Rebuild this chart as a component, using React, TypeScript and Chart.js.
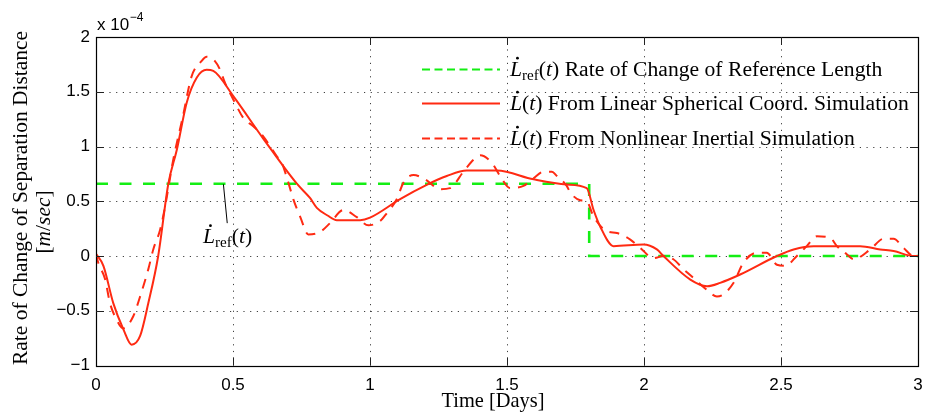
import React, { useEffect, useRef } from 'react';
import { Chart, registerables } from 'chart.js';

Chart.register(...registerables);

// ---------------- data (units of 1e-4 m/s) ----------------
const refX = [0, 1.8, 1.8, 3.0];
const refY = [0.66, 0.66, 0, 0];

const linX = [0, 0.027, 0.063, 0.1, 0.13, 0.161, 0.191, 0.227, 0.264, 0.295, 0.331, 0.368, 0.404, 0.428, 0.501, 0.611, 0.733, 0.781, 0.806, 0.845, 0.879, 0.964, 1.0, 1.11, 1.207, 1.28, 1.353, 1.463, 1.597, 1.718, 1.791, 1.816, 1.84, 1.889, 1.998, 2.047, 2.071, 2.169, 2.23, 2.278, 2.351, 2.485, 2.546, 2.619, 2.789, 2.862, 2.911, 2.984, 3.0];
const linY = [0.02, -0.09, -0.43, -0.67, -0.81, -0.73, -0.43, 0, 0.66, 0.97, 1.40, 1.63, 1.70, 1.69, 1.46, 1.07, 0.66, 0.53, 0.44, 0.37, 0.327, 0.327, 0.35, 0.52, 0.65, 0.73, 0.78, 0.78, 0.70, 0.653, 0.62, 0.42, 0.27, 0.09, 0.105, 0.06, 0, -0.215, -0.276, -0.245, -0.169, 0, 0.06, 0.09, 0.09, 0.06, 0.045, 0, 0];

const nlX = [0, 0.008, 0.033, 0.051, 0.069, 0.1, 0.136, 0.161, 0.191, 0.209, 0.234, 0.252, 0.282, 0.315, 0.349, 0.385, 0.404, 0.434, 0.453, 0.471, 0.501, 0.538, 0.574, 0.611, 0.66, 0.678, 0.696, 0.708, 0.72, 0.745, 0.775, 0.818, 0.854, 0.903, 0.952, 0.994, 1.037, 1.061, 1.098, 1.122, 1.159, 1.201, 1.256, 1.292, 1.341, 1.378, 1.402, 1.445, 1.475, 1.511, 1.56, 1.597, 1.633, 1.664, 1.682, 1.718, 1.731, 1.767, 1.791, 1.816, 1.865, 1.901, 1.95, 1.986, 2.035, 2.071, 2.107, 2.144, 2.18, 2.23, 2.266, 2.29, 2.327, 2.363, 2.412, 2.448, 2.485, 2.515, 2.558, 2.594, 2.631, 2.68, 2.704, 2.741, 2.765, 2.826, 2.874, 2.911, 2.947, 2.984, 3.0];
const nlY = [0.02, -0.06, -0.21, -0.43, -0.55, -0.66, -0.55, -0.37, -0.12, 0.06, 0.24, 0.45, 0.88, 1.25, 1.64, 1.78, 1.82, 1.78, 1.70, 1.58, 1.43, 1.26, 1.185, 1.09, 0.91, 0.85, 0.72, 0.62, 0.52, 0.36, 0.196, 0.22, 0.30, 0.42, 0.355, 0.28, 0.32, 0.39, 0.52, 0.67, 0.74, 0.70, 0.61, 0.62, 0.77, 0.88, 0.92, 0.85, 0.73, 0.62, 0.64, 0.71, 0.77, 0.77, 0.73, 0.64, 0.58, 0.51, 0.50, 0.36, 0.226, 0.21, 0.15, 0.075, -0.02, 0, -0.03, -0.12, -0.2, -0.31, -0.37, -0.35, -0.245, -0.06, 0.03, 0.03, -0.08, -0.09, 0, 0.09, 0.18, 0.166, 0.09, 0.014, -0.03, 0.06, 0.157, 0.157, 0.075, 0.0, 0];

const xTickLabels = ['0', '0.5', '1', '1.5', '2', '2.5', '3'];
const yTickLabels = ['\u22121', '\u22120.5', '0', '0.5', '1', '1.5', '2'];
const xMin = 0, xMax = 3, yMin = -1, yMax = 2, step = 0.5;

const legendTexts = [
  ') Rate of Change of Reference Length',
  ') From Linear Spherical Coord. Simulation',
  ') From Nonlinear Inertial Simulation',
];
const yTitle1 = 'Rate of Change of Separation Distance';
const xTitle = 'Time [Days]';

const RED = '#ff2a12';
const GREEN = '#14ee14';
const SERIF = '"Liberation Serif", "Times New Roman", serif';
const SANS = '"Liberation Sans", Arial, sans-serif';

type Run = { t: string; it?: boolean; sub?: boolean; dot?: boolean };

function runsWidth(ctx: CanvasRenderingContext2D, runs: Run[], size: number) {
  let w = 0;
  for (const r of runs) {
    const s = r.sub ? size * 0.7 : size;
    ctx.font = `${r.it ? 'italic ' : ''}${s}px ${SERIF}`;
    w += ctx.measureText(r.t).width;
  }
  return w;
}

function drawRuns(ctx: CanvasRenderingContext2D, x: number, y: number, runs: Run[], size: number) {
  let cx = x;
  ctx.textBaseline = 'alphabetic';
  ctx.textAlign = 'left';
  for (const r of runs) {
    const s = r.sub ? size * 0.7 : size;
    ctx.font = `${r.it ? 'italic ' : ''}${s}px ${SERIF}`;
    const dy = r.sub ? size * 0.2 : 0;
    ctx.fillText(r.t, cx, y + dy);
    const w = ctx.measureText(r.t).width;
    if (r.dot) {
      ctx.beginPath();
      ctx.arc(cx + w * 0.62, y - size * 0.8, size * 0.065, 0, Math.PI * 2);
      ctx.fill();
    }
    cx += w;
  }
  return cx - x;
}

function fitSize(ctx: CanvasRenderingContext2D, runs: Run[], target: number) {
  const w = runsWidth(ctx, runs, 20);
  return (20 * target) / w;
}

const decorPlugin = {
  id: 'decor',
  beforeDatasetsDraw(chart: any) {
    const { ctx, chartArea: a, scales } = chart;
    ctx.save();
    ctx.strokeStyle = 'rgba(0,0,0,0.75)';
    ctx.lineWidth = 1;
    ctx.setLineDash([1.2, 5.5]);
    for (let v = xMin + step; v < xMax - 1e-9; v += step) {
      const px = Math.round(scales.x.getPixelForValue(v)) + 0.5;
      ctx.beginPath();
      ctx.moveTo(px, a.bottom);
      ctx.lineTo(px, a.top);
      ctx.stroke();
    }
    for (let v = yMin + step; v < yMax - 1e-9; v += step) {
      const py = Math.round(scales.y.getPixelForValue(v)) + 0.5;
      ctx.beginPath();
      ctx.moveTo(a.left, py);
      ctx.lineTo(a.right, py);
      ctx.stroke();
    }
    ctx.restore();
  },
  afterDatasetsDraw(chart: any) {
    const { ctx, chartArea: a, scales } = chart;
    ctx.save();
    // box
    ctx.setLineDash([]);
    ctx.strokeStyle = '#000';
    ctx.lineWidth = 1.2;
    ctx.strokeRect(Math.round(a.left) + 0.5, Math.round(a.top) + 0.5, Math.round(a.right - a.left), Math.round(a.bottom - a.top));
    // inward ticks on all sides
    const tl = 8;
    ctx.lineWidth = 1;
    ctx.strokeStyle = '#222';
    for (let v = xMin + step; v < xMax - 1e-9; v += step) {
      const px = Math.round(scales.x.getPixelForValue(v)) + 0.5;
      ctx.beginPath();
      ctx.moveTo(px, a.bottom); ctx.lineTo(px, a.bottom - tl);
      ctx.moveTo(px, a.top); ctx.lineTo(px, a.top + tl);
      ctx.stroke();
    }
    for (let v = yMin + step; v < yMax - 1e-9; v += step) {
      const py = Math.round(scales.y.getPixelForValue(v)) + 0.5;
      ctx.beginPath();
      ctx.moveTo(a.left, py); ctx.lineTo(a.left + tl, py);
      ctx.moveTo(a.right, py); ctx.lineTo(a.right - tl, py);
      ctx.stroke();
    }

    // legend (no box)
    const rows: { y: number; color: string; dash: number[] }[] = [
      { y: 69.5, color: GREEN, dash: [8, 4.5] },
      { y: 103.5, color: RED, dash: [] },
      { y: 138.5, color: RED, dash: [8, 4.5] },
    ];
    const legendRuns: Run[][] = [
      [{ t: 'L', it: true, dot: true }, { t: 'ref', sub: true }, { t: '(' }, { t: 't', it: true }, { t: legendTexts[0] }],
      [{ t: 'L', it: true, dot: true }, { t: '(' }, { t: 't', it: true }, { t: legendTexts[1] }],
      [{ t: 'L', it: true, dot: true }, { t: '(' }, { t: 't', it: true }, { t: legendTexts[2] }],
    ];
    const lsize = fitSize(ctx, legendRuns[1], 399);
    ctx.fillStyle = '#000';
    rows.forEach((r, i) => {
      ctx.strokeStyle = r.color;
      ctx.lineWidth = 2.2;
      ctx.setLineDash(r.dash);
      ctx.beginPath();
      ctx.moveTo(422, r.y);
      ctx.lineTo(500, r.y);
      ctx.stroke();
      ctx.setLineDash([]);
      drawRuns(ctx, 510, r.y + 6, legendRuns[i], lsize);
    });

    // annotation L_ref(t)
    ctx.strokeStyle = '#000';
    ctx.lineWidth = 1;
    ctx.beginPath();
    ctx.moveTo(scales.x.getPixelForValue(0.465), scales.y.getPixelForValue(0.655));
    ctx.lineTo(scales.x.getPixelForValue(0.479), scales.y.getPixelForValue(0.30));
    ctx.stroke();
    drawRuns(ctx, 203, 243, [{ t: 'L', it: true, dot: true }, { t: 'ref', sub: true }, { t: '(' }, { t: 't', it: true }, { t: ')' }], lsize);

    // x title
    const xRuns: Run[] = [{ t: xTitle }];
    const xs = fitSize(ctx, xRuns, 103);
    drawRuns(ctx, 493 - runsWidth(ctx, xRuns, xs) / 2, 406.5, xRuns, xs);

    // y title (rotated)
    const y1: Run[] = [{ t: yTitle1 }];
    const ys = fitSize(ctx, y1, 334);
    ctx.save();
    ctx.translate(27, 198);
    ctx.rotate(-Math.PI / 2);
    drawRuns(ctx, -runsWidth(ctx, y1, ys) / 2, 0, y1, ys);
    ctx.restore();
    const y2: Run[] = [{ t: '[' }, { t: 'm', it: true }, { t: '/' }, { t: 'sec', it: true }, { t: ']' }];
    ctx.save();
    ctx.translate(50, 222);
    ctx.rotate(-Math.PI / 2);
    drawRuns(ctx, -runsWidth(ctx, y2, ys) / 2, 0, y2, ys);
    ctx.restore();

    // exponent label
    ctx.fillStyle = '#000';
    ctx.font = `17px ${SANS}`;
    ctx.textAlign = 'left';
    ctx.textBaseline = 'alphabetic';
    ctx.fillText('x 10', 97, 29.5);
    const w10 = ctx.measureText('x 10').width;
    ctx.font = `12px ${SANS}`;
    ctx.fillText('\u22124', 97 + w10 + 0.5, 21);
    ctx.restore();
  },
};

function pts(xs: number[], ys: number[]) {
  return xs.map((x, i) => ({ x, y: ys[i] }));
}

export default function App() {
  const ref = useRef<HTMLCanvasElement | null>(null);
  useEffect(() => {
    if (!ref.current) return;
    const chart = new Chart(ref.current, {
      type: 'scatter',
      data: {
        datasets: [
          {
            label: 'Nonlinear Inertial Simulation',
            data: pts(nlX, nlY),
            showLine: true,
            borderColor: RED,
            backgroundColor: RED,
            borderWidth: 2,
            borderDash: [10, 8],
            pointRadius: 0,
            cubicInterpolationMode: 'monotone',
          },
          {
            label: 'Linear Spherical Coord. Simulation',
            data: pts(linX, linY),
            showLine: true,
            borderColor: RED,
            backgroundColor: RED,
            borderWidth: 2,
            pointRadius: 0,
            cubicInterpolationMode: 'monotone',
          },
          {
            label: 'Rate of Change of Reference Length',
            data: pts(refX, refY),
            showLine: true,
            borderColor: GREEN,
            backgroundColor: GREEN,
            borderWidth: 2.6,
            borderDash: [12, 11.5],
            pointRadius: 0,
            tension: 0,
          },
        ],
      },
      options: {
        animation: false,
        responsive: false,
        devicePixelRatio: 1,
        layout: { padding: { top: 37, right: 7, left: 0, bottom: 0 } },
        plugins: { legend: { display: false }, tooltip: { enabled: false } },
        scales: {
          x: {
            type: 'linear',
            min: xMin,
            max: xMax,
            grid: { display: false, drawTicks: false },
            border: { display: false },
            ticks: {
              stepSize: step,
              autoSkip: false,
              maxRotation: 0,
              padding: 10,
              color: '#000',
              font: { family: SANS, size: 17 },
              callback: (v: any) => xTickLabels[Math.round((Number(v) - xMin) / step)] ?? '',
            },
            afterFit: (s: any) => { s.height = 53.5; s.paddingLeft = 0; s.paddingRight = 0; },
          },
          y: {
            type: 'linear',
            min: yMin,
            max: yMax,
            grid: { display: false, drawTicks: false },
            border: { display: false },
            ticks: {
              stepSize: step,
              autoSkip: false,
              padding: 6,
              color: '#000',
              font: { family: SANS, size: 17 },
              callback: (v: any) => yTickLabels[Math.round((Number(v) - yMin) / step)] ?? '',
            },
            afterFit: (s: any) => { s.width = 96; s.paddingTop = 0; s.paddingBottom = 0; },
          },
        },
      },
      plugins: [decorPlugin],
    } as any);
    return () => chart.destroy();
  }, []);
  return (
    <div style={{ position: 'fixed', left: 0, top: 0, width: 925, height: 419, background: '#fff' }}>
      <canvas ref={ref} width={925} height={419} style={{ display: 'block', width: 925, height: 419 }} />
    </div>
  );
}
